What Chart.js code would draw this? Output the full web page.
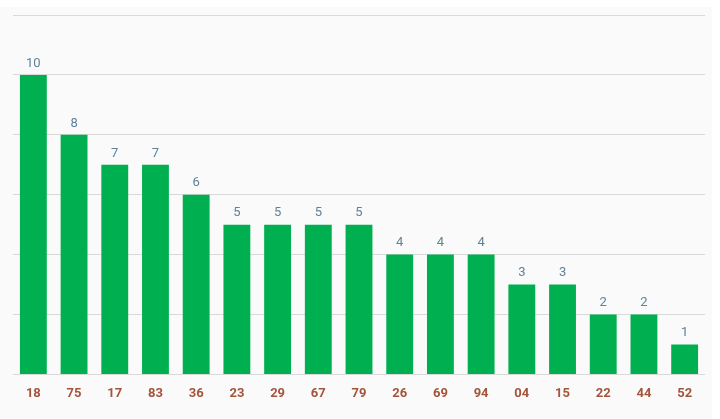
<!DOCTYPE html>
<html>
<head>
<meta charset="utf-8">
<script src="https://cdn.jsdelivr.net/npm/chart.js@4.4.1/dist/chart.umd.min.js"></script>
<style>
  html, body { margin: 0; padding: 0; background: #ffffff; }
  #wrap { width: 720px; height: 419px; position: relative; }
</style>
</head>
<body>
<div id="wrap"><canvas id="barChart" width="720" height="419"></canvas></div>
<script>
// chart data
const categories = ['18', '75', '17', '83', '36', '23', '29', '67', '79', '26', '69', '94', '04', '15', '22', '44', '52'];
const counts = [10, 8, 7, 7, 6, 5, 5, 5, 5, 4, 4, 4, 3, 3, 2, 2, 1];
const yTicks = [0, 2, 4, 6, 8, 10, 12];

// light grey panel behind the plot
const panelBg = {
    id: 'panelBg',
    beforeDraw(chart) {
        const c = chart.ctx;
        c.save();
        c.fillStyle = '#fafafa';
        c.fillRect(0, 7, 712, chart.height - 7);
        c.restore();
    }
};

// numbers above each bar
const barValues = {
    id: 'barValues',
    afterDatasetsDraw(chart) {
        const c = chart.ctx;
        const meta = chart.getDatasetMeta(0);
        c.save();
        c.font = '13px Roboto, "Noto Sans", sans-serif';
        c.fillStyle = '#5f8299';
        c.textAlign = 'center';
        c.textBaseline = 'bottom';
        meta.data.forEach((bar, i) => {
            c.fillText(String(counts[i]), bar.x, bar.y - 5);
        });
        c.restore();
    }
};

new Chart(document.getElementById('barChart').getContext('2d'), {
    type: 'bar',
    data: {
        labels: categories,
        datasets: [{
            data: counts,
            backgroundColor: '#00b050',
            borderWidth: 0,
            categoryPercentage: 1,
            barPercentage: 0.66
        }]
    },
    options: {
        responsive: false,
        animation: false,
        layout: { padding: { left: 13, right: 15, top: 15, bottom: 5 } },
        plugins: {
            legend: { display: false },
            tooltip: { enabled: false }
        },
        scales: {
            x: {
                grid: { display: false, drawTicks: false },
                border: { display: false },
                ticks: {
                    color: '#a3553c',
                    padding: 12,
                    font: { family: 'Roboto, "Noto Sans", sans-serif', size: 13, weight: 'bold' }
                }
            },
            y: {
                min: 0,
                max: 12,
                afterBuildTicks(axis) {
                    axis.ticks = yTicks.map(v => ({ value: v }));
                },
                ticks: { display: false },
                grid: { color: '#d9d9d9', lineWidth: 1, drawTicks: false },
                border: { display: false }
            }
        }
    },
    plugins: [panelBg, barValues]
});
</script>
</body>
</html>
